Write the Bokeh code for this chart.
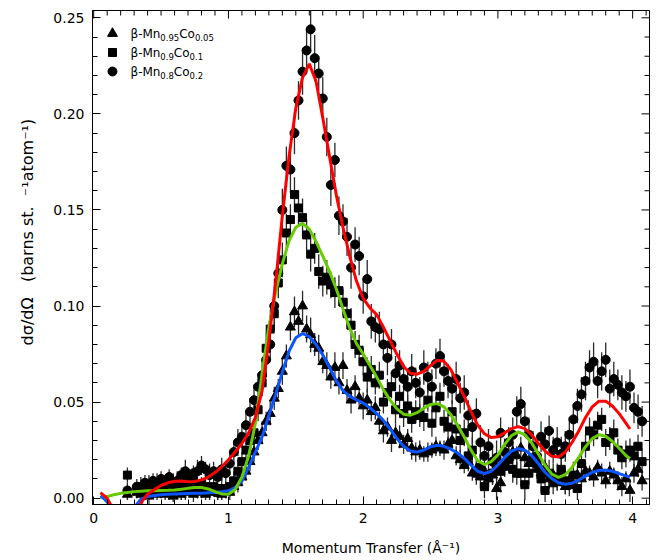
import math
from bokeh.plotting import figure
from bokeh.models import Range1d, Label, SingleIntervalTicker, PrintfTickFormatter
from bokeh.embed import file_html
from bokeh.resources import INLINE

# ---------------- data ----------------
q = [0.25,
     0.32, 0.35, 0.38, 0.41, 0.44, 0.47, 0.50, 0.53, 0.56, 0.59,
     0.62, 0.65, 0.68, 0.71, 0.74, 0.77, 0.80, 0.83, 0.86, 0.89,
     0.92, 0.95, 0.98, 1.01, 1.04, 1.07, 1.10, 1.13, 1.16, 1.19,
     1.22, 1.25, 1.28, 1.31, 1.34, 1.37, 1.40, 1.43, 1.46, 1.49,
     1.52, 1.55, 1.58, 1.61, 1.64, 1.67, 1.70, 1.73, 1.76, 1.79,
     1.82, 1.85, 1.88, 1.91, 1.94, 1.97, 2.00, 2.03, 2.06, 2.09,
     2.12, 2.15, 2.18, 2.21, 2.24, 2.27, 2.30, 2.33, 2.36, 2.39,
     2.42, 2.45, 2.48, 2.51, 2.54, 2.57, 2.60, 2.63, 2.66, 2.69,
     2.72, 2.75, 2.78, 2.81, 2.84, 2.87, 2.90, 2.93, 2.96, 2.99,
     3.02, 3.05, 3.08, 3.11, 3.14, 3.17, 3.20, 3.23, 3.26, 3.29,
     3.32, 3.35, 3.38, 3.41, 3.44, 3.47, 3.50, 3.53, 3.56, 3.59,
     3.62, 3.65, 3.68, 3.71, 3.74, 3.77, 3.80, 3.83, 3.86, 3.89,
     3.92, 3.95, 3.98, 4.01, 4.04, 4.07]

mn095 = [0.002,
         0.003, 0.002, 0.004, 0.001, 0.003, 0.002, 0.004, 0.002, 0.003, 0.001,
         0.004, 0.002, 0.003, 0.005, 0.002, 0.003, 0.004, 0.002, 0.003, 0.005,
         0.003, 0.002, 0.004, 0.003, 0.006, 0.008, 0.011, 0.014, 0.019, 0.024,
         0.030, 0.034, 0.040, 0.044, 0.052, 0.057, 0.066, 0.074, 0.089, 0.097,
         0.092, 0.100, 0.088, 0.085, 0.080, 0.078, 0.071, 0.069, 0.063, 0.068,
         0.060, 0.069, 0.056, 0.051, 0.058, 0.052, 0.048, 0.051, 0.045, 0.047,
         0.040, 0.035, 0.037, 0.030, 0.034, 0.032, 0.028, 0.031, 0.026, 0.024,
         0.025, 0.023, 0.024, 0.025, 0.027, 0.026, 0.025, 0.028, 0.030, 0.022,
         0.020, 0.017, 0.019, 0.013, 0.015, 0.011, 0.014, 0.010, 0.012, 0.005,
         0.008, 0.016, 0.021, 0.024, 0.022, 0.026, 0.021, 0.018, 0.020, 0.015,
         0.013, 0.016, 0.010, 0.012, 0.008, 0.011, 0.006, 0.009, 0.007, 0.012,
         0.010, 0.014, 0.013, 0.011, 0.016, 0.013, 0.009, 0.014, 0.012, 0.009,
         0.006, 0.010, 0.004, 0.013, 0.015, 0.009]
mn095_err = [0.003,
             0.003, 0.004, 0.003, 0.004, 0.003, 0.003, 0.004, 0.003, 0.004, 0.003,
             0.004, 0.003, 0.004, 0.003, 0.004, 0.003, 0.004, 0.003, 0.004, 0.003,
             0.004, 0.003, 0.004, 0.004, 0.004, 0.005, 0.004, 0.005, 0.005, 0.005,
             0.005, 0.006, 0.005, 0.006, 0.006, 0.005, 0.007, 0.006, 0.007, 0.008,
             0.007, 0.008, 0.007, 0.009, 0.006, 0.007, 0.006, 0.007, 0.006, 0.008,
             0.006, 0.007, 0.006, 0.007, 0.006, 0.005, 0.007, 0.006, 0.005, 0.006,
             0.005, 0.006, 0.005, 0.006, 0.005, 0.006, 0.005, 0.005, 0.006, 0.005,
             0.005, 0.004, 0.005, 0.004, 0.005, 0.004, 0.005, 0.004, 0.005, 0.005,
             0.005, 0.004, 0.005, 0.004, 0.005, 0.006, 0.005, 0.004, 0.005, 0.006,
             0.005, 0.004, 0.005, 0.004, 0.005, 0.006, 0.004, 0.005, 0.004, 0.005,
             0.005, 0.004, 0.005, 0.006, 0.004, 0.005, 0.004, 0.005, 0.004, 0.005,
             0.004, 0.005, 0.004, 0.005, 0.004, 0.005, 0.004, 0.005, 0.004, 0.005,
             0.005, 0.004, 0.006, 0.005, 0.004, 0.005]

mn09 = [0.012,
        0.004, 0.006, 0.003, 0.007, 0.005, 0.008, 0.004, 0.006, 0.009, 0.005,
        0.007, 0.004, 0.008, 0.006, 0.009, 0.005, 0.007, 0.006, 0.004, 0.006,
        0.003, 0.005, 0.004, 0.006, 0.009, 0.014, 0.019, 0.025, 0.030, 0.034,
        0.046, 0.060, 0.078, 0.088, 0.096, 0.112, 0.124, 0.138, 0.145, 0.158,
        0.151, 0.146, 0.137, 0.127, 0.130, 0.118, 0.113, 0.115, 0.111, 0.107,
        0.108, 0.102, 0.096, 0.090, 0.080, 0.077, 0.071, 0.063, 0.067, 0.060,
        0.064, 0.050, 0.055, 0.058, 0.046, 0.053, 0.044, 0.048, 0.041, 0.045,
        0.043, 0.042, 0.051, 0.039, 0.047, 0.053, 0.040, 0.037, 0.045, 0.036,
        0.030, 0.034, 0.022, 0.025, 0.013, 0.016, 0.006, 0.011, 0.013, 0.016,
        0.014, 0.018, 0.020, 0.015, 0.013, 0.013, 0.007, 0.013, 0.021, 0.018,
        0.010, 0.004, 0.013, 0.008, 0.011, 0.015, 0.009, 0.007, 0.012, 0.005,
        0.018, 0.027, 0.035, 0.033, 0.038, 0.041, 0.029, 0.031, 0.034, 0.025,
        0.021, 0.023, 0.025, 0.022, 0.027, 0.019]
mn09_err = [0.004,
            0.004, 0.005, 0.004, 0.005, 0.004, 0.005, 0.004, 0.005, 0.004, 0.005,
            0.004, 0.005, 0.004, 0.005, 0.004, 0.005, 0.004, 0.005, 0.004, 0.005,
            0.004, 0.005, 0.004, 0.005, 0.005, 0.006, 0.005, 0.006, 0.006, 0.007,
            0.006, 0.007, 0.008, 0.007, 0.009, 0.008, 0.009, 0.010, 0.008, 0.009,
            0.009, 0.010, 0.008, 0.009, 0.008, 0.009, 0.008, 0.009, 0.007, 0.008,
            0.008, 0.007, 0.008, 0.009, 0.007, 0.008, 0.007, 0.008, 0.007, 0.006,
            0.007, 0.006, 0.007, 0.006, 0.007, 0.006, 0.007, 0.006, 0.007, 0.006,
            0.006, 0.007, 0.006, 0.007, 0.006, 0.007, 0.006, 0.007, 0.006, 0.007,
            0.006, 0.007, 0.006, 0.007, 0.006, 0.007, 0.006, 0.007, 0.006, 0.007,
            0.006, 0.007, 0.006, 0.007, 0.006, 0.007, 0.008, 0.006, 0.007, 0.006,
            0.007, 0.006, 0.007, 0.006, 0.007, 0.006, 0.007, 0.006, 0.007, 0.006,
            0.007, 0.006, 0.007, 0.006, 0.007, 0.006, 0.007, 0.006, 0.007, 0.006,
            0.006, 0.007, 0.006, 0.007, 0.006, 0.007]

mn08 = [0.004,
        0.006, 0.004, 0.008, 0.005, 0.009, 0.006, 0.010, 0.007, 0.011, 0.008,
        0.009, 0.012, 0.014, 0.010, 0.013, 0.014, 0.017, 0.015, 0.012, 0.014,
        0.011, 0.015, 0.013, 0.018, 0.024, 0.029, 0.032, 0.038, 0.045, 0.051,
        0.058, 0.064, 0.072, 0.080, 0.100, 0.117, 0.150, 0.173, 0.171, 0.190,
        0.207, 0.222, 0.233, 0.244, 0.229, 0.221, 0.208, 0.188, 0.163, 0.176,
        0.147, 0.144, 0.136, 0.120, 0.132, 0.126, 0.105, 0.114, 0.092, 0.089,
        0.088, 0.080, 0.073, 0.080, 0.065, 0.069, 0.062, 0.058, 0.066, 0.060,
        0.055, 0.068, 0.063, 0.058, 0.070, 0.074, 0.066, 0.061, 0.057, 0.062,
        0.052, 0.055, 0.043, 0.037, 0.044, 0.029, 0.022, 0.027, 0.019, 0.021,
        0.034, 0.024, 0.029, 0.033, 0.045, 0.049, 0.040, 0.033, 0.027, 0.022,
        0.032, 0.028, 0.035, 0.025, 0.029, 0.023, 0.027, 0.033, 0.041, 0.048,
        0.054, 0.061, 0.068, 0.071, 0.061, 0.066, 0.072, 0.057, 0.062, 0.059,
        0.055, 0.053, 0.058, 0.047, 0.045, 0.040]
mn08_err = [0.004,
            0.004, 0.005, 0.004, 0.005, 0.004, 0.005, 0.004, 0.005, 0.004, 0.005,
            0.005, 0.004, 0.006, 0.005, 0.004, 0.006, 0.005, 0.004, 0.006, 0.005,
            0.005, 0.006, 0.005, 0.006, 0.006, 0.007, 0.006, 0.007, 0.007, 0.008,
            0.007, 0.008, 0.009, 0.008, 0.010, 0.009, 0.011, 0.010, 0.012, 0.011,
            0.010, 0.012, 0.011, 0.010, 0.012, 0.009, 0.011, 0.010, 0.011, 0.009,
            0.010, 0.009, 0.010, 0.011, 0.009, 0.010, 0.009, 0.010, 0.009, 0.008,
            0.009, 0.008, 0.009, 0.008, 0.009, 0.008, 0.007, 0.008, 0.009, 0.008,
            0.008, 0.009, 0.008, 0.009, 0.008, 0.009, 0.008, 0.009, 0.008, 0.009,
            0.008, 0.009, 0.008, 0.009, 0.008, 0.009, 0.008, 0.009, 0.008, 0.009,
            0.008, 0.007, 0.008, 0.009, 0.008, 0.009, 0.008, 0.009, 0.008, 0.007,
            0.008, 0.009, 0.008, 0.007, 0.008, 0.009, 0.008, 0.009, 0.008, 0.009,
            0.009, 0.010, 0.009, 0.010, 0.009, 0.010, 0.009, 0.010, 0.009, 0.008,
            0.009, 0.008, 0.009, 0.008, 0.009, 0.008]

# fitted curves
fit_q = [0.40, 0.45, 0.50, 0.55, 0.60, 0.65, 0.70, 0.75, 0.80, 0.85,
         0.90, 0.95, 1.00, 1.05, 1.10, 1.15, 1.20, 1.25, 1.30, 1.35,
         1.40, 1.45, 1.50, 1.55, 1.60, 1.65, 1.70, 1.75, 1.80, 1.85,
         1.90, 1.95, 2.00, 2.05, 2.10, 2.15, 2.20, 2.25, 2.30, 2.35,
         2.40, 2.45, 2.50, 2.55, 2.60, 2.65, 2.70, 2.75, 2.80, 2.85,
         2.90, 2.95, 3.00, 3.05, 3.10, 3.15, 3.20, 3.25, 3.30, 3.35,
         3.40, 3.45, 3.50, 3.55, 3.60, 3.65, 3.70, 3.75, 3.80, 3.85,
         3.90, 3.95, 3.98]

fit08_start_q = [0.05, 0.08, 0.10, 0.13, 0.18, 0.25, 0.30, 0.34, 0.37]
fit08_start = [0.0028, 0.0012, -0.0002, -0.004, -0.009, -0.010, -0.008, -0.004, -0.0005]
fit08 = [0.0020, 0.0045, 0.0066, 0.0080, 0.0088, 0.0089, 0.0086, 0.0087, 0.0095, 0.0110,
         0.0133, 0.0163, 0.0200, 0.0240, 0.0285, 0.0340, 0.0420, 0.0560, 0.0820, 0.1120,
         0.1470, 0.1780, 0.2030, 0.2190, 0.2260, 0.2170, 0.1980, 0.1780, 0.1580, 0.1410,
         0.1260, 0.1130, 0.1040, 0.0990, 0.0955, 0.0890, 0.0820, 0.0750, 0.0685, 0.0650,
         0.0645, 0.0660, 0.0690, 0.0718, 0.0712, 0.0670, 0.0600, 0.0530, 0.0450, 0.0380,
         0.0335, 0.0315, 0.0320, 0.0340, 0.0362, 0.0372, 0.0362, 0.0330, 0.0285, 0.0245,
         0.0218, 0.0214, 0.0240, 0.0290, 0.0350, 0.0420, 0.0475, 0.0505, 0.0505, 0.0480,
         0.0440, 0.0390, 0.0360]

fit09_start_q = [0.08, 0.10, 0.15, 0.20, 0.25, 0.30, 0.35]
fit09_start = [0.0000, 0.0008, 0.0018, 0.0025, 0.0030, 0.0034, 0.0036]
fit09 = [0.0038, 0.0039, 0.0040, 0.0041, 0.0043, 0.0046, 0.0051, 0.0055, 0.0055, 0.0048,
         0.0034, 0.0022, 0.0020, 0.0045, 0.0110, 0.0220, 0.0390, 0.0650, 0.0890, 0.1070,
         0.1220, 0.1340, 0.1410, 0.1430, 0.1400, 0.1335, 0.1260, 0.1180, 0.1090, 0.0985,
         0.0885, 0.0805, 0.0750, 0.0690, 0.0630, 0.0565, 0.0510, 0.0465, 0.0437, 0.0432,
         0.0445, 0.0468, 0.0488, 0.0492, 0.0475, 0.0435, 0.0380, 0.0318, 0.0250, 0.0195,
         0.0175, 0.0190, 0.0225, 0.0280, 0.0325, 0.0345, 0.0330, 0.0288, 0.0230, 0.0170,
         0.0125, 0.0108, 0.0122, 0.0160, 0.0212, 0.0268, 0.0310, 0.0330, 0.0322, 0.0295,
         0.0260, 0.0222, 0.0205]

fit095_start_q = [0.05, 0.08, 0.12, 0.18, 0.25, 0.30, 0.35]
fit095_start = [0.0012, -0.0005, -0.0035, -0.0065, -0.0070, -0.0050, -0.0005]
fit095 = [0.0008, 0.0014, 0.0018, 0.0020, 0.0022, 0.0023, 0.0024, 0.0025, 0.0026, 0.0028,
          0.0030, 0.0033, 0.0038, 0.0055, 0.0090, 0.0160, 0.0240, 0.0320, 0.0430, 0.0540,
          0.0655, 0.0765, 0.0835, 0.0857, 0.0840, 0.0800, 0.0745, 0.0680, 0.0612, 0.0560,
          0.0530, 0.0512, 0.0495, 0.0470, 0.0440, 0.0405, 0.0360, 0.0310, 0.0270, 0.0245,
          0.0240, 0.0250, 0.0268, 0.0275, 0.0270, 0.0255, 0.0235, 0.0208, 0.0172, 0.0140,
          0.0128, 0.0140, 0.0172, 0.0212, 0.0245, 0.0258, 0.0250, 0.0222, 0.0180, 0.0135,
          0.0102, 0.0080, 0.0072, 0.0078, 0.0094, 0.0116, 0.0134, 0.0144, 0.0146, 0.0140,
          0.0128, 0.0116, 0.0110]

x_major_step = 1
x_minor_per_major = 10
y_major_step = 0.05
y_minor_per_major = 5

# ---------------- figure ----------------
FONT = "DejaVu Sans"
FW, FH = 557, 494
XMIN, XMAX = -0.009, 4.125
YMIN, YMAX = -0.0033, 0.2538
MAJ_LEN, MIN_LEN = 8, 5

p = figure(frame_width=FW, frame_height=FH,
           x_range=Range1d(XMIN, XMAX), y_range=Range1d(YMIN, YMAX),
           output_backend="svg", toolbar_location=None,
           min_border_left=92, min_border_right=10, min_border_top=10, min_border_bottom=40)
p.background_fill_color = "white"
p.border_fill_color = "white"
p.outline_line_color = "black"
p.outline_line_width = 1
p.xgrid.visible = False
p.ygrid.visible = False

xt = SingleIntervalTicker(interval=x_major_step, num_minor_ticks=x_minor_per_major)
yt = SingleIntervalTicker(interval=y_major_step, num_minor_ticks=y_minor_per_major)

xa = p.xaxis[0]
ya = p.yaxis[0]
xa.ticker = xt
ya.ticker = yt
ya.formatter = PrintfTickFormatter(format="%.2f")
for ax in (xa, ya):
    ax.major_tick_in = MAJ_LEN
    ax.major_tick_out = 0
    ax.minor_tick_in = MIN_LEN
    ax.minor_tick_out = 0
    ax.axis_line_color = "black"
    ax.major_tick_line_color = "black"
    ax.minor_tick_line_color = "black"
    ax.major_label_text_font = FONT
    ax.major_label_text_font_size = "14px"
    ax.major_label_text_color = "black"
    ax.axis_label_text_font = FONT
    ax.axis_label_text_font_style = "normal"
    ax.axis_label_text_color = "black"
xa.major_label_standoff = 8
ya.major_label_standoff = 8

xa.axis_label = "Momentum Transfer (Å⁻¹)"
xa.axis_label_text_font_size = "14px"
xa.axis_label_standoff = 14

# y title: leading no-break spaces lift the visible text above the frame centre, as in the reference
NB = "\u00a0"
ya.axis_label = NB * 10 + "dσ/dΩ" + NB * 3 + "(barns st." + NB * 2 + "⁻¹atom⁻¹)"
ya.axis_label_text_font_size = "16px"
ya.axis_label_standoff = 13

# mirrored inward ticks on top and right edges of the frame
px_x = (XMAX - XMIN) / FW
px_y = (YMAX - YMIN) / FH
tx0, tx1, ty0, ty1 = [], [], [], []
k = 0
while True:
    xv = k * x_major_step / x_minor_per_major
    if xv > XMAX:
        break
    L = MAJ_LEN if k % x_minor_per_major == 0 else MIN_LEN
    tx0.append(xv); tx1.append(xv); ty0.append(YMAX); ty1.append(YMAX - L * px_y)
    k += 1
k = 0
while True:
    yv = k * y_major_step / y_minor_per_major
    if yv > YMAX:
        break
    L = MAJ_LEN if k % y_minor_per_major == 0 else MIN_LEN
    tx0.append(XMAX); tx1.append(XMAX - L * px_x); ty0.append(yv); ty1.append(yv)
    k += 1
p.segment(x0=tx0, y0=ty0, x1=tx1, y1=ty1, line_color="black", line_width=1)

# error bars
ERR_COLOR = "#2a2a2a"
for vals, errs in ((mn095, mn095_err), (mn09, mn09_err), (mn08, mn08_err)):
    p.segment(x0=q, x1=q,
              y0=[v - e for v, e in zip(vals, errs)],
              y1=[v + e for v, e in zip(vals, errs)],
              line_color=ERR_COLOR, line_width=1.3)

# data points
p.scatter(q, mn095, marker="triangle", size=10, fill_color="black", line_color="black")
p.scatter(q, mn09, marker="square", size=8, fill_color="black", line_color="black")
p.scatter(q, mn08, marker="circle", size=9, fill_color="black", line_color="black")

# fits
p.line(fit095_start_q + fit_q, fit095_start + fit095, line_color="#0a55ff", line_width=3)
p.line(fit09_start_q + fit_q, fit09_start + fit09, line_color="#66cc00", line_width=3)
p.line(fit08_start_q + fit_q, fit08_start + fit08, line_color="#ff0000", line_width=3)

# ---------------- legend (hand built for subscripts) ----------------
ADV = {"β": 0.626, "-": 0.361, "M": 0.863, "n": 0.634, "C": 0.698, "o": 0.612, ".": 0.318}


def text_w(s, size):
    return sum(ADV.get(c, 0.636) for c in s) * size


legend_rows = [
    ("triangle", 10, [("β-Mn", 0), ("0.95", 1), ("Co", 0), ("0.05", 1)]),
    ("square", 8, [("β-Mn", 0), ("0.9", 1), ("Co", 0), ("0.1", 1)]),
    ("circle", 9, [("β-Mn", 0), ("0.8", 1), ("Co", 0), ("0.2", 1)]),
]
MAIN, SUB = 12, 8.5
for i, (marker, size, parts) in enumerate(legend_rows):
    dy = 23 + 19 * i
    p.scatter([XMIN + 20 * px_x], [YMAX - dy * px_y], marker=marker, size=size,
              fill_color="black", line_color="black")
    xpos = 38
    for txt, is_sub in parts:
        fs = SUB if is_sub else MAIN
        p.add_layout(Label(x=xpos, y=FH - dy - (4 if is_sub else 0),
                           x_units="screen", y_units="screen", text=txt,
                           text_font=FONT, text_font_size=f"{fs}px",
                           text_baseline="middle", text_align="left", text_color="black"))
        xpos += text_w(txt, fs)

open("out.html", "w").write(file_html(p, INLINE))
